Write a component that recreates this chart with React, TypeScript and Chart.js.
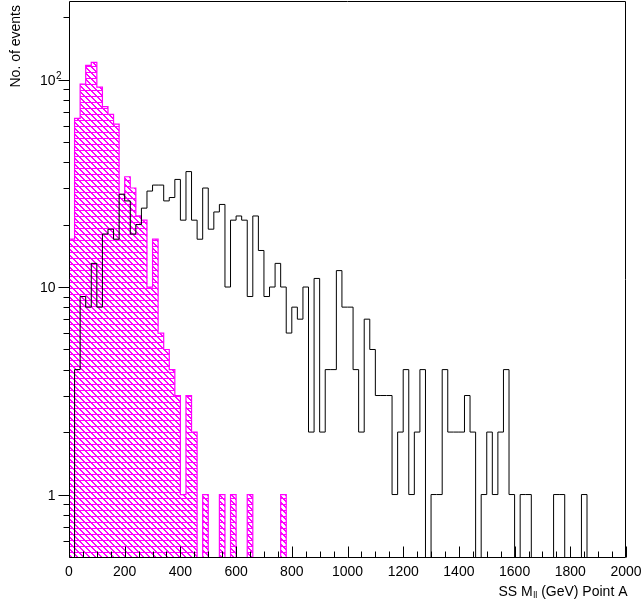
import React, { useEffect, useRef } from 'react';
import { Chart, registerables } from 'chart.js';

Chart.register(...registerables);

const BIN_WIDTH = 20;
const N_BINS = 100;
const X_MIN = 0;
const X_MAX = 2000;
const Y_MIN = 0.5;
const Y_MAX = 239;

const binLowEdges: number[] = Array.from({ length: N_BINS }, (_, i) => X_MIN + i * BIN_WIDTH);

// Black outline histogram
const pointACounts: number[] = [
  0, 4, 9, 8, 13, 8, 18, 19, 17, 28,
  26, 18, 20, 24, 29, 31, 31, 26, 27, 33,
  21, 36, 21, 17, 30, 19, 23, 25, 10, 21,
  22, 21, 9, 22, 15, 9, 10, 13, 10, 6,
  8, 7, 10, 2, 11, 2, 4, 4, 12, 8,
  8, 4, 2, 7, 5, 3, 3, 3, 1, 2,
  4, 1, 2, 4, 0, 1, 1, 4, 2, 2,
  2, 3, 2, 0, 1, 2, 1, 2, 4, 1,
  0, 1, 1, 0, 0, 0, 0, 1, 1, 0,
  0, 0, 1, 0, 0, 0, 0, 0, 0, 0,
];

// Magenta hatched histogram
const backgroundCounts: number[] = [
  17, 65, 95, 117, 121, 92, 74, 68, 61, 28,
  34, 30, 22, 21, 10, 17, 6, 5, 4, 3,
  1, 3, 2, 0, 1, 0, 0, 1, 0, 1,
  0, 0, 1, 0, 0, 0, 0, 0, 1, 0,
  0, 0, 0, 0, 0, 0, 0, 0, 0, 0,
  0, 0, 0, 0, 0, 0, 0, 0, 0, 0,
  0, 0, 0, 0, 0, 0, 0, 0, 0, 0,
  0, 0, 0, 0, 0, 0, 0, 0, 0, 0,
  0, 0, 0, 0, 0, 0, 0, 0, 0, 0,
  0, 0, 0, 0, 0, 0, 0, 0, 0, 0,
];

const xTickValues: number[] = [0, 200, 400, 600, 800, 1000, 1200, 1400, 1600, 1800, 2000];
const xTickLabels: string[] = ['0', '200', '400', '600', '800', '1000', '1200', '1400', '1600', '1800', '2000'];
const xMinorStep = 50;
const yMajorTicks: number[] = [1, 10, 100];
const yMinorTicks: number[] = [0.6, 0.7, 0.8, 0.9, 2, 3, 4, 5, 6, 7, 8, 9, 20, 30, 40, 50, 60, 70, 80, 90, 200];
const yTitle = 'No. of events';
const xTitleA = 'SS M';
const xTitleSub = 'll';
const xTitleB = ' (GeV) Point A';

const FLOOR = 0.02;
const FONT = '"Liberation Sans", Arial, sans-serif';

function stepPoints(counts: number[]) {
  const pts: { x: number; y: number }[] = [{ x: X_MIN, y: FLOOR }];
  counts.forEach((c, i) => pts.push({ x: binLowEdges[i], y: c > 0 ? c : FLOOR }));
  const last = counts[counts.length - 1];
  pts.push({ x: X_MAX, y: last > 0 ? last : FLOOR });
  pts.push({ x: X_MAX, y: FLOOR });
  return pts;
}

function makeHatch(ctx: CanvasRenderingContext2D): CanvasPattern | string {
  const size = 6;
  const tile = document.createElement('canvas');
  tile.width = size;
  tile.height = size;
  const t = tile.getContext('2d');
  if (!t) return '#ff66ff';
  t.fillStyle = '#ffffff';
  t.fillRect(0, 0, size, size);
  t.fillStyle = '#ff00ff';
  t.fillRect(0, 0, size, 1);
  for (let yy = 1; yy < size; yy++) {
    t.fillRect(yy % size, yy, 1, 1);
    t.fillRect((yy + 1) % size, yy, 1, 1);
  }
  return ctx.createPattern(tile, 'repeat') || '#ff66ff';
}

const rootAxesPlugin = {
  id: 'rootAxes',
  afterDatasetsDraw(chart: any) {
    const { ctx, chartArea: a, scales } = chart;
    const xs = scales.x;
    const ys = scales.y;
    ctx.save();
    ctx.strokeStyle = '#000';
    ctx.lineWidth = 1;
    // frame
    const L = Math.round(a.left) + 0.5;
    const R = Math.round(a.right) - 0.5;
    const T = Math.round(a.top) + 0.5;
    const B = Math.round(a.bottom) + 0.5;
    ctx.beginPath();
    ctx.moveTo(L, T);
    ctx.lineTo(R, T);
    ctx.lineTo(R, B);
    ctx.lineTo(L, B);
    ctx.closePath();
    ctx.stroke();

    // x ticks (inside, upward)
    ctx.beginPath();
    for (let v = X_MIN; v <= X_MAX; v += xMinorStep) {
      const px = Math.round(xs.getPixelForValue(v)) + 0.5;
      const len = v % 200 === 0 ? 11 : 6;
      ctx.moveTo(px, B);
      ctx.lineTo(px, B - len);
    }
    // y ticks (outside, leftward)
    yMajorTicks.forEach((v) => {
      const py = Math.round(ys.getPixelForValue(v)) + 0.5;
      ctx.moveTo(L, py);
      ctx.lineTo(L - 11, py);
    });
    yMinorTicks.forEach((v) => {
      const py = Math.round(ys.getPixelForValue(v)) + 0.5;
      ctx.moveTo(L, py);
      ctx.lineTo(L - 6, py);
    });
    ctx.stroke();

    // x tick labels
    ctx.fillStyle = '#000';
    ctx.font = `14px ${FONT}`;
    ctx.textAlign = 'center';
    ctx.textBaseline = 'alphabetic';
    xTickValues.forEach((v, i) => {
      ctx.fillText(xTickLabels[i], xs.getPixelForValue(v), 576);
    });

    // y tick labels
    ctx.textAlign = 'right';
    const lx = L - 14;
    const p1 = ys.getPixelForValue(1);
    const p10 = ys.getPixelForValue(10);
    const p100 = ys.getPixelForValue(100);
    ctx.fillText('1', lx, p1 + 5);
    ctx.fillText('10', lx, p10 + 5);
    ctx.fillText('10', lx, p100 + 5);
    ctx.font = `10px ${FONT}`;
    ctx.textAlign = 'left';
    ctx.fillText('2', lx + 0.5, p100 - 1);

    // x title
    ctx.font = `14px ${FONT}`;
    const wB = ctx.measureText(xTitleB).width;
    ctx.font = `9px ${FONT}`;
    const wSub = ctx.measureText(xTitleSub).width;
    ctx.font = `14px ${FONT}`;
    const wA = ctx.measureText(xTitleA).width;
    const right = 627;
    const base = 596;
    let cx = right - wB - wSub - wA;
    ctx.textAlign = 'left';
    ctx.fillText(xTitleA, cx, base);
    cx += wA;
    ctx.font = `9px ${FONT}`;
    ctx.fillText(xTitleSub, cx + 0.5, base + 2);
    cx += wSub + 0.5;
    ctx.font = `14px ${FONT}`;
    ctx.fillText(xTitleB, cx, base);

    // y title
    ctx.save();
    ctx.translate(16, 5);
    ctx.rotate(-Math.PI / 2);
    ctx.textAlign = 'right';
    ctx.textBaseline = 'middle';
    ctx.font = `14px ${FONT}`;
    ctx.fillText(yTitle, 0, 0);
    ctx.restore();

    ctx.restore();
  },
};

export default function App() {
  const canvasRef = useRef<HTMLCanvasElement | null>(null);

  useEffect(() => {
    const canvas = canvasRef.current;
    if (!canvas) return;
    const ctx = canvas.getContext('2d');
    if (!ctx) return;
    const hatch = makeHatch(ctx);

    const chart = new Chart(ctx, {
      type: 'line',
      data: {
        datasets: [
          {
            label: 'Point A',
            data: stepPoints(pointACounts),
            stepped: 'before',
            borderColor: '#000000',
            borderWidth: 1,
            pointRadius: 0,
            fill: false,
            order: 0,
          },
          {
            label: 'Background',
            data: stepPoints(backgroundCounts),
            stepped: 'before',
            borderColor: '#ff00ff',
            borderWidth: 1.2,
            backgroundColor: hatch as any,
            pointRadius: 0,
            fill: 'start',
            order: 1,
          },
        ],
      },
      options: {
        responsive: false,
        animation: false,
        devicePixelRatio: 1,
        parsing: true,
        layout: { padding: { left: 69, right: 18, top: 1, bottom: 47 } },
        plugins: {
          legend: { display: false },
          tooltip: { enabled: false },
        },
        scales: {
          x: { type: 'linear', min: X_MIN, max: X_MAX, display: false },
          y: { type: 'logarithmic', min: Y_MIN, max: Y_MAX, display: false },
        },
      },
      plugins: [rootAxesPlugin],
    });

    return () => chart.destroy();
  }, []);

  return (
    <div style={{ position: 'absolute', left: 0, top: 0, width: 644, height: 604, background: '#fff' }}>
      <canvas ref={canvasRef} width={644} height={604} style={{ display: 'block', width: 644, height: 604 }} />
    </div>
  );
}
